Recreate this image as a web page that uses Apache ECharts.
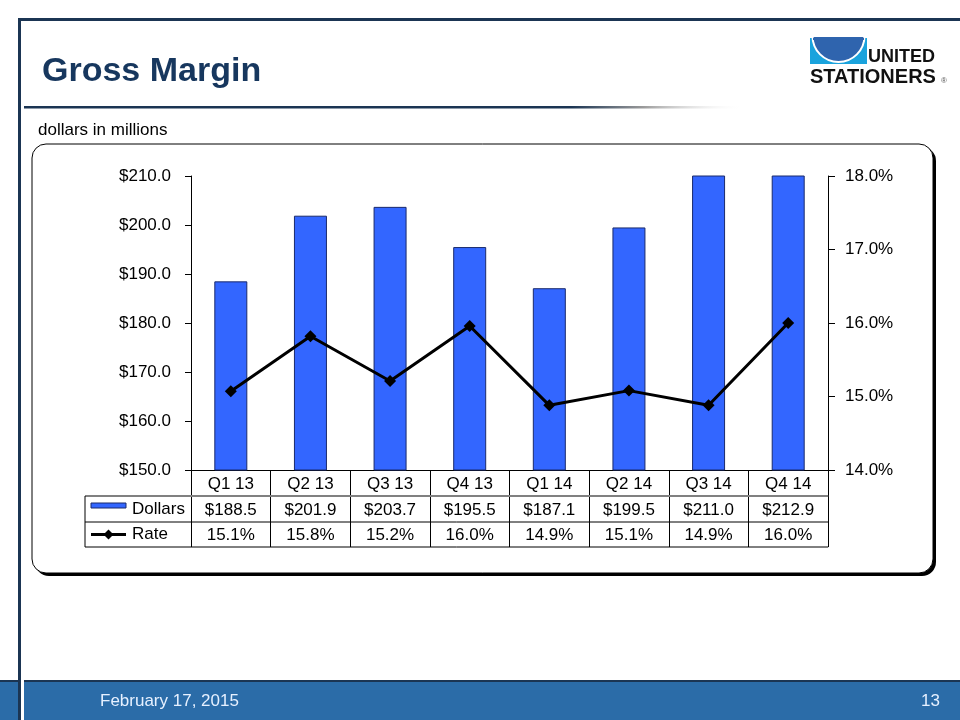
<!DOCTYPE html>
<html>
<head>
<meta charset="utf-8">
<script src="https://cdn.jsdelivr.net/npm/echarts@6/dist/echarts.min.js"></script>
<style>
html,body{margin:0;padding:0;background:#fff;}
#c{width:960px;height:720px;}
</style>
</head>
<body>
<div id="c"></div>
<script>
// ---- data ----
const categories = ['Q1 13','Q2 13','Q3 13','Q4 13','Q1 14','Q2 14','Q3 14','Q4 14'];
const dollars = [188.5, 201.9, 203.7, 195.5, 187.1, 199.5, 211.0, 212.9];
const rates = [15.07, 15.82, 15.21, 15.96, 14.88, 15.08, 14.88, 16.0];
const dollarAxis = {min: 150, max: 210, interval: 10};
const rateAxis = {min: 14, max: 18, interval: 1};
const seriesNames = ['Dollars', 'Rate'];
const titleText = 'Gross Margin';
const unitText = 'dollars in millions';
const footerDate = 'February 17, 2015';
const pageNum = '13';

const FONT = 'Liberation Sans';
const NAVY = '#1B3553';
const BAR = '#3366FF';

const chart = echarts.init(document.getElementById('c'), null, {renderer: 'canvas'});

chart.setOption({
  animation: false,
  backgroundColor: '#ffffff',
  grid: {left: 191, right: 132, top: 176, bottom: 250, containLabel: false},
  xAxis: {
    type: 'category',
    data: categories,
    boundaryGap: true,
    axisLine: {show: true, lineStyle: {color: '#000', width: 1}},
    axisTick: {show: true, inside: false, length: 77, alignWithLabel: false, lineStyle: {color: '#000', width: 1}},
    axisLabel: {fontFamily: FONT, fontSize: 17, color: '#000', margin: 6},
    splitLine: {show: false}
  },
  yAxis: [
    {
      type: 'value', position: 'left',
      min: dollarAxis.min, max: dollarAxis.max, interval: dollarAxis.interval,
      axisLine: {show: true, lineStyle: {color: '#000', width: 1}},
      axisTick: {show: true, length: 6, lineStyle: {color: '#000'}},
      axisLabel: {fontFamily: FONT, fontSize: 17, color: '#000', margin: 20,
        formatter: v => '$' + v.toFixed(1)},
      splitLine: {show: false}
    },
    {
      type: 'value', position: 'right',
      min: rateAxis.min, max: rateAxis.max, interval: rateAxis.interval,
      axisLine: {show: true, lineStyle: {color: '#000', width: 1}},
      axisTick: {show: true, length: 7, lineStyle: {color: '#000'}},
      axisLabel: {fontFamily: FONT, fontSize: 17, color: '#000', margin: 17,
        formatter: v => v.toFixed(1) + '%'},
      splitLine: {show: false}
    }
  ],
  series: [
    {
      name: seriesNames[0], type: 'bar', data: dollars, yAxisIndex: 0,
      barWidth: 33, clip: true,
      itemStyle: {color: BAR, borderColor: '#1a2a6c', borderWidth: 1}
    },
    {
      name: seriesNames[1], type: 'line', data: rates, yAxisIndex: 1,
      symbol: 'diamond', symbolSize: 12, z: 5,
      lineStyle: {color: '#000', width: 3},
      itemStyle: {color: '#000'}
    }
  ]
});

function txt(x, y, text, size, opts) {
  opts = opts || {};
  return {type: 'text', x: x, y: y, z: opts.z || 3,
    style: {text: text, fill: opts.fill || '#000', fontFamily: FONT, fontSize: size,
      fontWeight: opts.bold ? 'bold' : 'normal', textAlign: opts.align || 'left', textVerticalAlign: 'middle'}};
}

// ---- layout-dependent decorations & data table ----
const axisY = chart.convertToPixel({yAxisIndex: 0}, dollarAxis.min);
const xRight = chart.convertToPixel({xAxisIndex: 0}, categories[categories.length - 1]) + 40;
const row1 = axisY + 26, row2 = axisY + 52, row3 = axisY + 77;
const tableLeft = 85;
const mid1 = (row1 + row2) / 2, mid2 = (row2 + row3) / 2;

const g = [];
// slide frame
g.push({type: 'rect', shape: {x: 0, y: 680, width: 960, height: 2}, style: {fill: NAVY}, z: 1});
g.push({type: 'rect', shape: {x: 0, y: 682, width: 960, height: 38}, style: {fill: '#2B6CA8'}, z: 1});
g.push({type: 'rect', shape: {x: 21, y: 680, width: 3, height: 40}, style: {fill: '#ffffff'}, z: 2});
g.push({type: 'rect', shape: {x: 18, y: 18, width: 942, height: 3}, style: {fill: NAVY}, z: 2});
g.push({type: 'rect', shape: {x: 18, y: 18, width: 3, height: 702}, style: {fill: NAVY}, z: 2});
g.push(txt(100, 701, footerDate, 17, {fill: '#E6F0FF'}));
g.push(txt(940, 701, pageNum, 17, {fill: '#E6F0FF', align: 'right'}));
// title
g.push(txt(42, 72, titleText, 34, {fill: '#17375E', bold: true}));
g.push({type: 'rect', shape: {x: 24, y: 106, width: 720, height: 2.5},
  style: {fill: new echarts.graphic.LinearGradient(0, 0, 1, 0, [
    {offset: 0, color: NAVY}, {offset: 0.76, color: NAVY}, {offset: 0.86, color: '#9a9a9a'}, {offset: 1, color: 'rgba(255,255,255,0)'}])}, z: 3});
// logo
g.push({type: 'rect', shape: {x: 810, y: 38, width: 57, height: 26}, style: {fill: '#1AA3DD'}, z: 3});
g.push({type: 'sector', shape: {cx: 838.5, cy: 36, r: 26, r0: 0, startAngle: 0, endAngle: Math.PI}, style: {fill: '#2F64AE', stroke: '#ffffff', lineWidth: 2}, z: 4});
g.push({type: 'rect', shape: {x: 813, y: 38, width: 51, height: 2}, style: {fill: '#2F64AE'}, z: 5});
g.push(txt(868, 57, 'UNITED', 18, {fill: '#111', bold: true}));
g.push(txt(810, 77, 'STATIONERS', 20, {fill: '#111', bold: true}));
g.push(txt(941, 81, '®', 8, {fill: '#555'}));
// unit label
g.push(txt(38, 130, unitText, 17));
// chart box with hard shadow
g.push({type: 'rect', shape: {x: 35, y: 147, width: 901, height: 429, r: 14}, style: {fill: '#000'}, z: -11});
g.push({type: 'rect', shape: {x: 32, y: 144, width: 901, height: 429, r: 14},
  style: {fill: '#ffffff', stroke: '#000', lineWidth: 1}, z: -10});
// table lines
g.push({type: 'line', shape: {x1: tableLeft, y1: row1, x2: xRight, y2: row1}, style: {stroke: '#808080', lineWidth: 2}, z: 3});
g.push({type: 'line', shape: {x1: tableLeft, y1: row2, x2: xRight, y2: row2}, style: {stroke: '#000', lineWidth: 1}, z: 3});
g.push({type: 'line', shape: {x1: tableLeft, y1: row3, x2: xRight, y2: row3}, style: {stroke: '#000', lineWidth: 1}, z: 3});
g.push({type: 'line', shape: {x1: tableLeft, y1: row1, x2: tableLeft, y2: row3}, style: {stroke: '#000', lineWidth: 1}, z: 3});
// legend cells
g.push({type: 'rect', shape: {x: 91, y: mid1 - 6, width: 35, height: 5}, style: {fill: BAR, stroke: '#1a2a6c', lineWidth: 1}, z: 3});
g.push(txt(132, mid1, seriesNames[0], 17));
g.push({type: 'line', shape: {x1: 91, y1: mid2, x2: 126, y2: mid2}, style: {stroke: '#000', lineWidth: 3}, z: 3});
g.push({type: 'polygon', shape: {points: [[108.5, mid2 - 5], [113.5, mid2], [108.5, mid2 + 5], [103.5, mid2]]}, style: {fill: '#000'}, z: 4});
g.push(txt(132, mid2, seriesNames[1], 17));
// table values
categories.forEach((c, i) => {
  const x = chart.convertToPixel({xAxisIndex: 0}, c);
  g.push(txt(x, mid1 + 1, '$' + dollars[i].toFixed(1), 17, {align: 'center'}));
  g.push(txt(x, mid2 + 1, rates[i].toFixed(1) + '%', 17, {align: 'center'}));
});

chart.setOption({graphic: {elements: g}});
</script>
</body>
</html>
